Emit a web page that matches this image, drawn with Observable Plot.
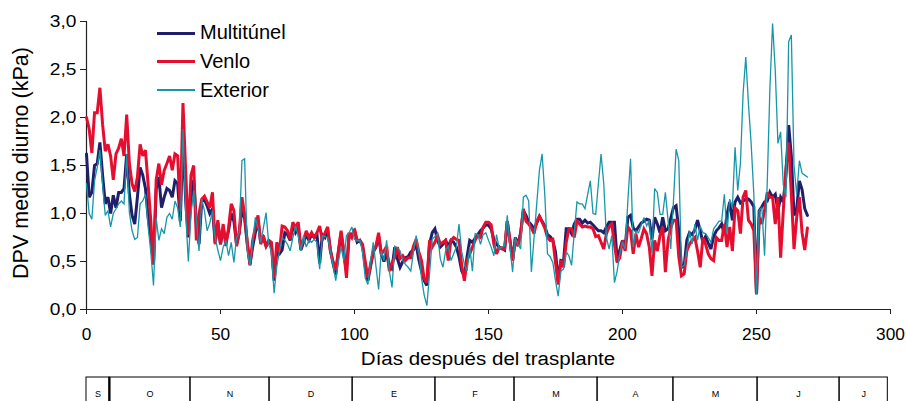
<!DOCTYPE html>
<html>
<head>
<meta charset="utf-8">
<script src="https://cdn.jsdelivr.net/npm/d3@7"></script>
<script src="https://cdn.jsdelivr.net/npm/@observablehq/plot@0.6"></script>
<style>
  body { margin: 0; background: #fff; }
  #chart { position: relative; width: 906px; height: 401px; overflow: hidden;
           font-family: "Liberation Sans", Arial, sans-serif; color: #000; background: #fff; }
  #chart svg { position: absolute; left: 0; }
  .lbl { position: absolute; white-space: nowrap; line-height: 1; }
  .key { position: absolute; left: 157px; width: 38px; }
  .keytext { position: absolute; left: 200px; font-size: 20px; line-height: 20px; white-space: nowrap; }
</style>
</head>
<body>
<div id="chart"></div>
<script>
// Daily mean vapour pressure deficit (kPa), one value per day after transplanting (day 0 .. 269)
const multitunel = [
  1.62, 1.17, 1.22, 1.50, 1.52, 1.74, 1.40, 1.10, 1.17, 1.00,
  1.19, 1.06, 1.22, 1.22, 1.26, 1.62, 1.20, 0.98, 0.89, 1.17,
  1.48, 1.40, 1.26, 0.96, 0.75, 0.47, 1.25, 1.38, 1.06, 1.17,
  1.26, 1.24, 1.17, 1.34, 1.31, 0.92, 1.80, 1.13, 0.75, 1.15,
  1.35, 0.90, 0.68, 1.13, 1.15, 1.08, 1.00, 1.05, 0.70, 0.90,
  0.68, 0.85, 0.70, 0.82, 1.00, 0.92, 0.68, 0.80, 1.05, 0.95,
  0.68, 0.47, 0.65, 0.80, 0.92, 0.70, 0.75, 0.66, 0.70, 0.68,
  0.30, 0.60, 0.58, 0.62, 0.80, 0.78, 0.72, 0.88, 0.80, 0.85,
  0.62, 0.70, 0.78, 0.72, 0.78, 0.75, 0.78, 0.48, 0.78, 0.75,
  0.82, 0.62, 0.48, 0.36, 0.60, 0.80, 0.58, 0.40, 0.78, 0.78,
  0.82, 0.70, 0.72, 0.66, 0.45, 0.30, 0.45, 0.60, 0.65, 0.76,
  0.58, 0.50, 0.60, 0.44, 0.42, 0.65, 0.53, 0.44, 0.50, 0.54,
  0.55, 0.60, 0.62, 0.68, 0.52, 0.40, 0.30, 0.25, 0.68, 0.80,
  0.84, 0.72, 0.65, 0.68, 0.72, 0.66, 0.72, 0.70, 0.65, 0.55,
  0.40, 0.35, 0.55, 0.72, 0.70, 0.74, 0.78, 0.82, 0.85, 0.88,
  0.88, 0.84, 0.73, 0.68, 0.65, 0.64, 0.62, 0.92, 0.72, 0.51,
  0.75, 0.68, 0.80, 1.03, 0.98, 0.91, 0.88, 0.84, 0.90, 0.97,
  0.92, 0.87, 0.78, 0.76, 0.72, 0.60, 0.30, 0.51, 0.50, 0.84,
  0.84, 0.79, 0.89, 0.94, 0.94, 0.90, 0.93, 0.90, 0.91, 0.88,
  0.85, 0.82, 0.82, 0.80, 0.86, 0.91, 0.91, 0.91, 0.51, 0.62,
  0.72, 0.65, 0.96, 0.98, 0.85, 0.82, 0.86, 0.90, 0.92, 0.94,
  0.93, 0.73, 0.96, 0.89, 0.80, 0.96, 0.82, 0.84, 0.95, 1.06,
  1.08, 0.82, 0.44, 0.45, 0.72, 0.80, 0.78, 0.83, 0.93, 0.82,
  0.70, 0.76, 0.69, 0.63, 0.76, 0.82, 0.85, 0.89, 0.78, 0.99,
  1.12, 0.93, 1.12, 1.17, 1.11, 1.13, 1.15, 1.15, 1.12, 1.07,
  0.16, 1.03, 1.07, 1.12, 1.13, 1.22, 1.17, 1.20, 1.03, 1.17,
  1.12, 1.40, 1.92, 1.60, 0.98, 1.05, 1.34, 1.25, 1.05, 0.98
];
const venlo = [
  2.00, 1.88, 1.63, 2.05, 2.05, 2.31, 1.93, 1.65, 1.72, 1.60,
  1.35, 1.62, 1.68, 1.78, 1.60, 2.03, 1.52, 1.31, 1.23, 1.38,
  1.72, 1.60, 1.66, 1.30, 0.92, 0.47, 1.35, 1.52, 1.30, 1.45,
  1.52, 1.60, 1.45, 1.62, 1.60, 1.02, 2.15, 1.45, 0.78, 1.40,
  1.50, 0.72, 1.00, 1.15, 1.18, 1.12, 1.06, 1.22, 0.68, 0.93,
  0.68, 0.89, 0.66, 0.85, 1.10, 1.03, 0.66, 0.80, 1.17, 0.99,
  0.70, 0.46, 0.72, 0.85, 0.98, 0.68, 0.77, 0.66, 0.72, 0.70,
  0.33, 0.70, 0.61, 0.87, 0.86, 0.82, 0.73, 0.91, 0.85, 0.91,
  0.65, 0.72, 0.82, 0.75, 0.80, 0.75, 0.80, 0.87, 0.72, 0.80,
  0.86, 0.61, 0.50, 0.41, 0.61, 0.82, 0.61, 0.33, 0.80, 0.75,
  0.84, 0.72, 0.72, 0.68, 0.50, 0.33, 0.47, 0.60, 0.66, 0.80,
  0.58, 0.61, 0.66, 0.40, 0.49, 0.54, 0.65, 0.53, 0.56, 0.51,
  0.54, 0.54, 0.66, 0.73, 0.60, 0.51, 0.32, 0.28, 0.72, 0.65,
  0.70, 0.77, 0.68, 0.70, 0.72, 0.51, 0.72, 0.75, 0.73, 0.72,
  0.46, 0.30, 0.51, 0.58, 0.65, 0.72, 0.77, 0.75, 0.86, 0.91,
  0.91, 0.88, 0.68, 0.58, 0.65, 0.63, 0.63, 0.92, 0.72, 0.51,
  0.72, 0.66, 0.79, 1.05, 0.92, 0.89, 0.85, 0.79, 0.92, 0.97,
  0.91, 0.85, 0.75, 0.72, 0.73, 0.49, 0.26, 0.51, 0.44, 0.70,
  0.84, 0.84, 0.75, 0.92, 0.89, 0.86, 0.87, 0.86, 0.86, 0.84,
  0.76, 0.77, 0.70, 0.63, 0.79, 0.86, 0.89, 0.68, 0.49, 0.54,
  0.72, 0.61, 0.86, 0.82, 0.58, 0.79, 0.65, 0.74, 0.84, 0.79,
  0.65, 0.35, 0.72, 0.61, 0.77, 0.86, 0.39, 0.72, 0.85, 0.93,
  0.93, 0.55, 0.35, 0.37, 0.61, 0.68, 0.72, 0.75, 0.61, 0.44,
  0.75, 0.68, 0.58, 0.53, 0.51, 0.75, 0.72, 0.72, 0.89, 0.65,
  0.86, 0.61, 1.06, 1.03, 0.79, 1.17, 1.24, 0.93, 0.89, 0.82,
  0.16, 0.96, 0.89, 1.03, 1.22, 1.17, 1.17, 0.89, 1.17, 0.54,
  1.03, 1.48, 1.74, 1.20, 0.63, 0.96, 1.17, 0.80, 0.62, 0.85
];
const exterior = [
  1.31, 1.00, 0.94, 1.34, 1.48, 1.66, 1.30, 0.98, 1.03, 0.86,
  1.00, 1.05, 1.10, 1.13, 1.10, 1.62, 1.01, 0.82, 0.73, 0.75,
  1.10, 1.13, 1.20, 0.86, 0.60, 0.25, 0.95, 0.72, 0.84, 0.79,
  0.96, 1.00, 0.94, 1.13, 1.06, 0.86, 1.88, 1.00, 0.50, 1.00,
  1.24, 0.95, 0.61, 1.15, 1.03, 0.82, 0.90, 1.03, 0.75, 0.62,
  0.51, 0.65, 0.72, 0.56, 0.70, 0.49, 0.75, 0.80, 1.55, 1.57,
  0.61, 0.46, 0.70, 0.96, 0.85, 0.70, 0.85, 1.01, 0.68, 0.60,
  0.17, 0.45, 0.61, 0.75, 0.72, 0.68, 0.61, 0.75, 0.87, 0.77,
  0.61, 0.77, 0.65, 0.72, 0.70, 0.73, 0.70, 0.42, 0.77, 0.76,
  0.75, 0.61, 0.46, 0.30, 0.50, 0.65, 0.51, 0.77, 0.80, 0.86,
  0.73, 0.72, 0.72, 0.60, 0.33, 0.26, 0.51, 0.70, 0.45, 0.21,
  0.61, 0.51, 0.72, 0.40, 0.23, 0.66, 0.64, 0.61, 0.51, 0.47,
  0.44, 0.40, 0.60, 0.77, 0.61, 0.33, 0.15, 0.04, 0.37, 0.73,
  0.76, 0.79, 0.53, 0.44, 0.61, 0.66, 0.51, 0.58, 0.65, 0.89,
  0.60, 0.47, 0.40, 0.65, 0.40, 0.79, 0.78, 0.68, 0.78, 0.80,
  0.72, 0.65, 0.56, 0.78, 0.63, 0.65, 0.66, 0.98, 0.65, 0.39,
  0.75, 0.68, 0.63, 1.17, 1.19, 1.13, 0.39, 0.75, 1.10, 1.45,
  1.62, 1.20, 0.58, 0.55, 0.49, 0.30, 0.14, 0.40, 0.42, 0.60,
  0.56, 0.46, 0.80, 1.12, 1.10, 1.10, 1.05, 1.20, 1.34, 1.00,
  0.99, 1.31, 1.62, 1.31, 0.75, 0.63, 0.77, 0.28, 0.40, 0.58,
  0.70, 0.63, 1.13, 1.57, 0.65, 0.82, 0.80, 0.88, 0.96, 0.87,
  0.93, 0.58, 1.26, 1.22, 0.99, 0.99, 1.22, 0.93, 0.63, 1.12,
  1.67, 1.55, 0.44, 0.46, 0.60, 0.82, 0.68, 0.89, 0.72, 0.87,
  0.80, 0.79, 0.75, 0.70, 0.84, 0.88, 0.92, 0.92, 1.20, 0.79,
  1.15, 1.06, 1.69, 1.24, 1.52, 2.25, 2.63, 2.14, 1.73, 1.20,
  0.16, 1.03, 1.06, 0.56, 1.31, 2.30, 2.98, 2.49, 1.73, 1.85,
  1.30, 1.17, 2.79, 2.86, 1.50, 1.20, 1.55, 1.42, 1.40, 1.38
];

// Axis ticks
const xTicks = [0, 50, 100, 150, 200, 250, 300];
const yTicks = [0, 0.5, 1, 1.5, 2, 2.5, 3];

// Month strip under the axis: labels and the day at which each box starts/ends
const monthLabels = ["S", "O", "N", "D", "E", "F", "M", "A", "M", "J", "J"];
const monthEdges = [0, 8.6, 38.8, 68.3, 99.3, 130.2, 159.7, 190.7, 219, 250.4, 281, 299];

const seriesNames = ["Multitúnel", "Venlo", "Exterior"];
const seriesColors = ["#1f1f6b", "#e60d2e", "#1796a8"];
const seriesWidths = [3, 3, 1.3];

const toRows = (vals) => vals.map((v, i) => ({day: i, dpv: v}));
const seriesRows = [multitunel, venlo, exterior].map(toRows);
const monthRows = monthLabels.map((m, i) => ({m, x1: monthEdges[i], x2: monthEdges[i + 1]}));

const commaFmt = (d) => d.toFixed(1).replace(".", ",");
const font = '"Liberation Sans", Arial, sans-serif';

const main = Plot.plot({
  width: 906,
  height: 372,
  marginLeft: 86,
  marginRight: 16,
  marginTop: 21,
  marginBottom: 63,
  style: {fontFamily: font, fontSize: "16px", color: "#000", background: "transparent", overflow: "visible"},
  x: {domain: [0, 300]},
  y: {domain: [0, 3]},
  marks: [
    Plot.axisX({ticks: xTicks, tickFormat: (d) => String(d), tickSize: 5, tickPadding: 14, label: null, stroke: "#222"}),
    Plot.axisY({ticks: yTicks, tickFormat: commaFmt, tickSize: 6, tickPadding: 4, label: null, stroke: "#222"}),
    Plot.ruleY([0], {stroke: "#222", strokeWidth: 1.2}),
    Plot.ruleX([0], {stroke: "#222", strokeWidth: 1.2}),
    ...seriesRows.map((rows, i) =>
      Plot.line(rows, {x: "day", y: "dpv", stroke: seriesColors[i], strokeWidth: seriesWidths[i],
                       strokeLinejoin: "miter", strokeMiterlimit: 3})
    )
  ]
});

const strip = Plot.plot({
  width: 906,
  height: 40,
  marginLeft: 86,
  marginRight: 16,
  marginTop: 5,
  marginBottom: 0,
  style: {fontFamily: font, background: "transparent", overflow: "visible"},
  x: {domain: [0, 300], axis: null},
  marks: [
    Plot.rect(monthRows, {x1: "x1", x2: "x2", fill: "none", stroke: "#000", strokeWidth: 1}),
    Plot.ruleX([monthEdges[1]], {stroke: "#000", strokeWidth: 2}),
    Plot.text(monthRows, {x: (d) => (d.x1 + d.x2) / 2, text: "m", frameAnchor: "top", dy: 13, fontSize: 9, fill: "#000"})
  ]
});

// Slightly widened tick labels
function widen(t, s) {
  const tr = t.getAttribute("transform");
  if (tr) t.setAttribute("transform", tr + ` scale(${s},1)`);
  else {
    const x = +t.getAttribute("x") || 0;
    t.setAttribute("transform", `translate(${x},0) scale(${s},1) translate(${-x},0)`);
  }
}
main.querySelectorAll('g[aria-label="x-axis tick label"] text').forEach((t) => widen(t, 1.08));
main.querySelectorAll('g[aria-label="y-axis tick label"] text').forEach((t) => widen(t, 1.2));

const chart = document.getElementById("chart");
main.style.top = "0px";
strip.style.top = "372px";
chart.appendChild(main);
chart.appendChild(strip);

// Axis titles
const xTitle = document.createElement("div");
xTitle.className = "lbl";
xTitle.textContent = "Días después del trasplante";
Object.assign(xTitle.style, {left: "488px", top: "359px", fontSize: "18px",
  transform: "translate(-50%, -50%) scaleX(1.14)"});
chart.appendChild(xTitle);

const yTitle = document.createElement("div");
yTitle.className = "lbl";
yTitle.textContent = "DPV medio diurno (kPa)";
Object.assign(yTitle.style, {left: "22px", top: "163px", fontSize: "21.5px",
  transform: "translate(-50%, -50%) rotate(-90deg)"});
chart.appendChild(yTitle);

// Legend
const keyTops = [22.4, 51.4, 80.4];
const keyLineY = [33.3, 61.7, 90];
seriesNames.forEach((name, i) => {
  const line = document.createElement("div");
  line.className = "key";
  Object.assign(line.style, {top: (keyLineY[i] - seriesWidths[i] / 2) + "px", height: seriesWidths[i] + "px",
    background: seriesColors[i]});
  chart.appendChild(line);
  const txt = document.createElement("div");
  txt.className = "keytext";
  txt.textContent = name;
  txt.style.top = keyTops[i] + "px";
  chart.appendChild(txt);
});
</script>
</body>
</html>
